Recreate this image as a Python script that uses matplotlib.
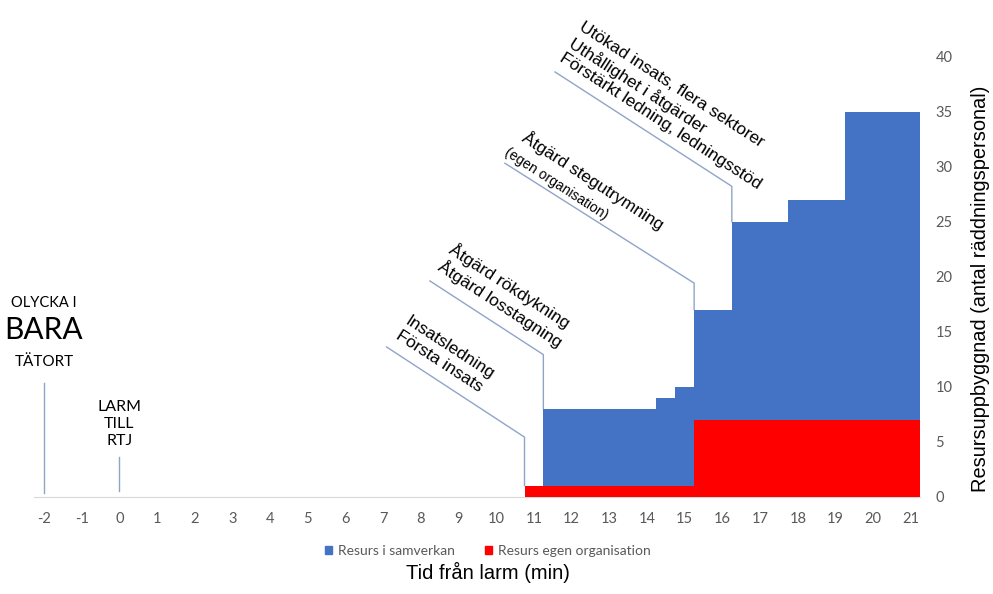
import matplotlib.pyplot as plt
from matplotlib.patches import Patch

plt.rcParams['axes.unicode_minus'] = False

# tid från larm (min) där resursnivån ändras
tid = [10.75, 11.25, 14.25, 14.75, 15.25, 16.25, 17.75, 19.25, 21.25]
# antal räddningspersonal
egen_org = [1, 1, 1, 1, 7, 7, 7, 7, 7]
samverkan = [0, 7, 8, 9, 10, 18, 20, 28, 28]

x_ticks = list(range(-2, 22))
y_ticks = [0, 5, 10, 15, 20, 25, 30, 35, 40]

# ledarlinjer: index i tid, knäckhöjd, startpunkt (x, y)
ledare_idx = [0, 1, 4, 5]
ledare_knack = [5.4, 12.9, 19.4, 28.2]
ledare_start_x = [7.09, 8.24, 10.23, 11.56]
ledare_start_y = [13.6, 19.6, 30.3, 38.6]

blue = '#4472C4'
red = '#FF0000'
line_col = '#8EA5C8'
grey = '#595959'
calibri = ['Lato', 'DejaVu Sans']
arial = ['Liberation Sans', 'DejaVu Sans']

fig = plt.figure(figsize=(9.93, 5.94), dpi=100)
ax = fig.add_axes([0.0347, 0.1641, 0.8921, 0.7407])

total = [e + s for e, s in zip(egen_org, samverkan)]
ax.fill_between(tid, 0, egen_org, step='post', color=red, lw=0, zorder=3)
ax.fill_between(tid, egen_org, total, step='post', color=blue, lw=0, zorder=3)

# ledarlinjer
for i, kn, sx, sy in zip(ledare_idx, ledare_knack, ledare_start_x, ledare_start_y):
    t = tid[i]
    ax.plot([sx, t, t], [sy, kn, total[i]], color=line_col, lw=1, zorder=2, clip_on=False)

# vertikala linjer vid -2 och 0
ax.plot([-2, -2], [0.3, 10.3], color=line_col, lw=1, clip_on=False)
ax.plot([0, 0], [0.5, 3.6], color=line_col, lw=1, clip_on=False)

rot = -33
kw = dict(rotation=rot, rotation_mode='anchor', ha='left', va='baseline', family=arial)
ax.text(7.33, 14.55, 'Insatsledning\nFörsta insats', fontsize=12.5, linespacing=1.15, **kw)
ax.text(8.44, 20.85, 'Åtgärd rökdykning\nÅtgärd losstagning', fontsize=12.5, linespacing=1.15, **kw)
ax.text(10.20, 31.09, '(egen organisation)', fontsize=10, **kw)
ax.text(10.66, 32.41, 'Åtgärd stegutrymning', fontsize=12.5, **kw)
ax.text(11.68, 39.8, 'Utökad insats, flera sektorer\nUthållighet i åtgärder\nFörstärkt ledning, ledningsstöd',
        fontsize=12.5, linespacing=1.2, **kw)

ax.text(-2, 17.6, 'OLYCKA I', ha='center', va='center', fontsize=10.5, family=calibri)
ax.text(-2, 15.14, 'BARA', ha='center', va='center', fontsize=21.5, family=calibri)
ax.text(-2, 12.25, 'TÄTORT', ha='center', va='center', fontsize=11, family=calibri)
ax.text(0, 6.6, 'LARM\nTILL\nRTJ', ha='center', va='center', fontsize=11.5,
        linespacing=1.25, family=calibri)

ax.set_xlim(-2.25, 21.25)
ax.set_ylim(0, 40)
ax.set_xticks(x_ticks)
ax.set_yticks(y_ticks)
ax.yaxis.tick_right()
ax.tick_params(axis='x', length=0, pad=11, labelsize=10.5, labelcolor=grey)
ax.tick_params(axis='y', length=0, pad=11, labelsize=10.5, labelcolor=grey)
for lab in ax.get_xticklabels() + ax.get_yticklabels():
    lab.set_family(calibri)
for s in ['left', 'top', 'right']:
    ax.spines[s].set_visible(False)
ax.spines['bottom'].set_color('#D9D9D9')

fig.text(980 / 993, 1 - 289 / 594, 'Resursuppbyggnad (antal räddningspersonal)', rotation=90,
         ha='center', va='center', fontsize=14.4, family=arial)
fig.text(488 / 993, 1 - 572 / 594, 'Tid från larm (min)', ha='center', va='center',
         fontsize=14.5, family=arial)

handles = [Patch(color=blue, label='Resurs i samverkan'),
           Patch(color=red, label='Resurs egen organisation')]
fig.legend(handles=handles, loc='center', bbox_to_anchor=(488 / 993, 1 - 551 / 594), ncol=2,
           frameon=False, handlelength=0.5, handleheight=0.5, handletextpad=0.4,
           columnspacing=2.2, prop={'family': calibri, 'size': 10}, labelcolor=grey)

fig.savefig('out.png', dpi=100)
